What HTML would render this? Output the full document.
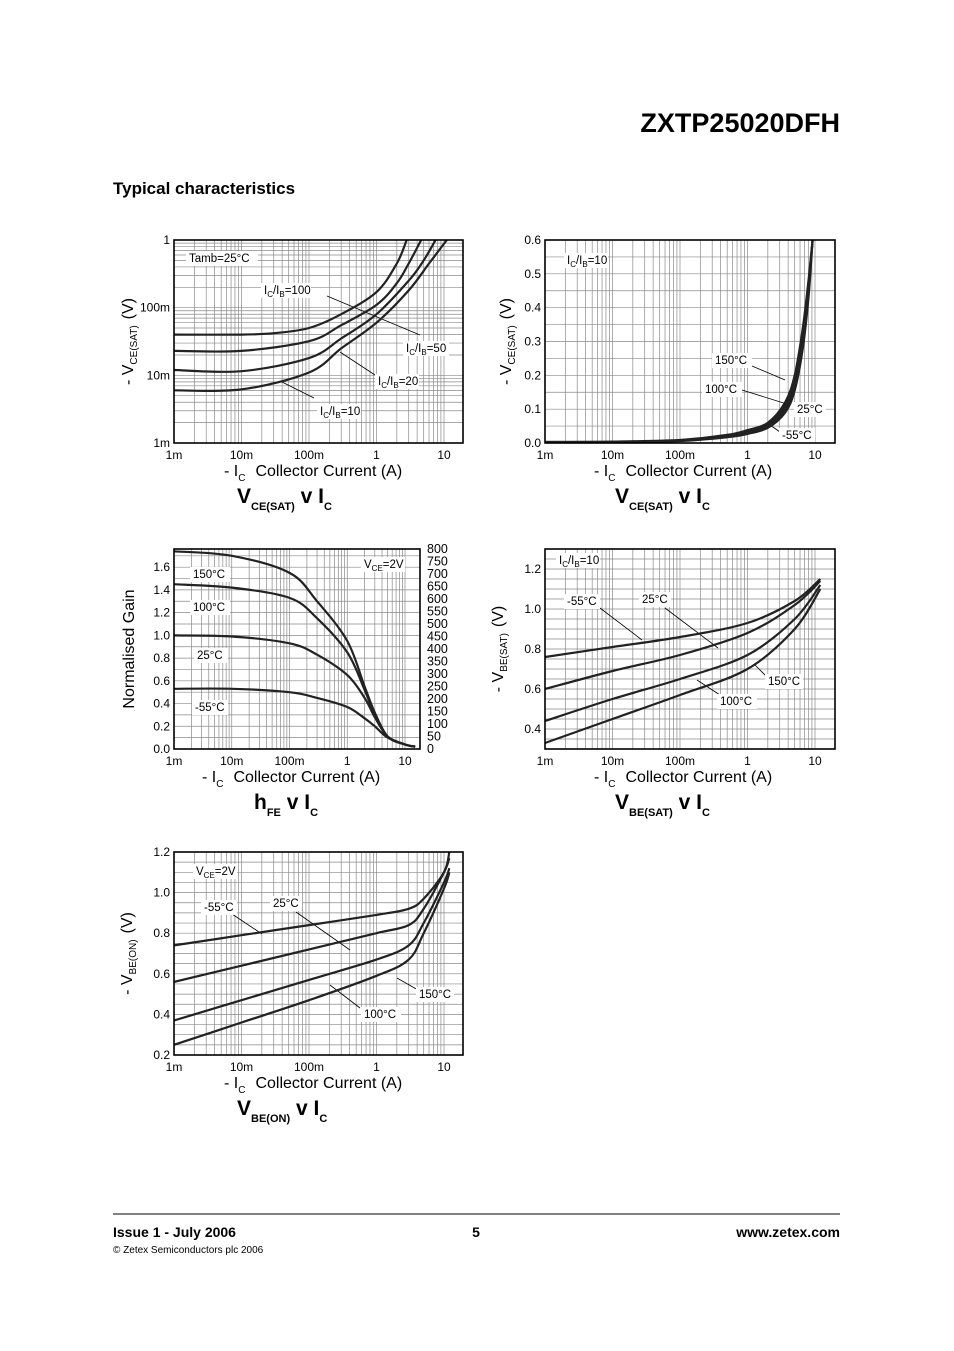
<!DOCTYPE html>
<html><head><meta charset="utf-8"><style>
html,body{margin:0;padding:0;background:#fff}
svg{display:block;font-family:"Liberation Sans",sans-serif}
</style></head><body>
<svg id="pg" width="954" height="1351" viewBox="0 0 954 1351" xmlns="http://www.w3.org/2000/svg">
<text x="840" y="132" text-anchor="end" font-size="27" font-weight="bold">ZXTP25020DFH</text>
<text x="113" y="194" font-size="17" font-weight="bold">Typical characteristics</text>
<line x1="113" y1="1214" x2="840" y2="1214" stroke="#000" stroke-width="1"/>
<text x="113" y="1237" font-size="14" font-weight="bold">Issue 1 - July 2006</text>
<text x="476" y="1237" font-size="14" font-weight="bold" text-anchor="middle">5</text>
<text x="840" y="1237" font-size="14" font-weight="bold" text-anchor="end">www.zetex.com</text>
<text x="113" y="1253" font-size="10">© Zetex Semiconductors plc 2006</text>
<g id="charts"></g>
</svg>
<script>
// ---- Chart 1: VCE(SAT) v IC (mV, log) ----
const c1_100_x=[0.001,0.01,0.03,0.1,0.3,1,2,2.8];
const c1_100_y=[40,40,42,50,80,170,450,1000];
const c1_50_x=[0.001,0.01,0.1,0.3,1,2,3,4.6];
const c1_50_y=[23,23,32,55,110,230,450,1000];
const c1_20_x=[0.001,0.01,0.1,0.3,1,3,5,7.5];
const c1_20_y=[12,11.5,18,35,80,250,500,1000];
const c1_10_x=[0.001,0.01,0.1,0.3,1,3,6,11];
const c1_10_y=[6,6.2,11,25,60,180,450,1000];
// ---- Chart 2: VCE(SAT) v IC temperatures ----
const c2_x=[0.001,0.01,0.1,0.5,1,2,3.6,5,6.6,8,9.2];
const c2_150=[0.003,0.004,0.009,0.024,0.038,0.06,0.12,0.2,0.34,0.48,0.6];
const c2_100=[0.003,0.0035,0.008,0.022,0.034,0.055,0.11,0.185,0.32,0.47,0.6];
const c2_25=[0.002,0.003,0.007,0.02,0.031,0.05,0.1,0.17,0.3,0.45,0.6];
const c2_m55=[0.002,0.0025,0.006,0.017,0.027,0.045,0.09,0.155,0.28,0.43,0.6];
// ---- Chart 3: hFE v IC (normalised) ----
const c3_x=[0.001,0.01,0.1,0.3,1,2,3,5,10,15];
const c3_150=[1.74,1.70,1.55,1.30,0.95,0.55,0.32,0.11,0.04,0.02];
const c3_100=[1.45,1.42,1.33,1.15,0.85,0.52,0.30,0.11,0.04,0.02];
const c3_25=[1.0,0.99,0.93,0.83,0.65,0.45,0.28,0.11,0.04,0.02];
const c3_m55=[0.53,0.53,0.50,0.45,0.37,0.27,0.20,0.10,0.04,0.02];
// ---- Chart 4: VBE(SAT) v IC ----
const c4_x=[0.001,0.01,0.1,1,5,12];
const c4_m55=[0.76,0.81,0.86,0.93,1.04,1.15];
const c4_25=[0.60,0.69,0.77,0.88,1.02,1.14];
const c4_100=[0.44,0.55,0.65,0.77,0.95,1.12];
const c4_150=[0.33,0.45,0.57,0.70,0.90,1.10];
// ---- Chart 5: VBE(ON) v IC ----
const c5_x=[0.001,0.01,0.1,1,3,5,10,12];
const c5_m55=[0.74,0.79,0.84,0.89,0.92,0.97,1.10,1.20];
const c5_25=[0.56,0.64,0.72,0.80,0.84,0.92,1.10,1.17];
const c5_100=[0.37,0.47,0.57,0.67,0.74,0.85,1.05,1.12];
const c5_150=[0.25,0.36,0.47,0.59,0.67,0.80,1.02,1.10];

const NS='http://www.w3.org/2000/svg';
const root=document.getElementById('charts');
function mk(tag,attrs,parent){const e=document.createElementNS(NS,tag);for(const k in attrs)e.setAttribute(k,attrs[k]);(parent||root).appendChild(e);return e;}
let clipId=0;
function smooth(pts){let d='M'+pts[0][0].toFixed(1)+','+pts[0][1].toFixed(1);
 for(let i=0;i<pts.length-1;i++){const p0=pts[Math.max(0,i-1)],p1=pts[i],p2=pts[i+1],p3=pts[Math.min(pts.length-1,i+2)];
  const c1=[p1[0]+(p2[0]-p0[0])/6,p1[1]+(p2[1]-p0[1])/6],c2=[p2[0]-(p3[0]-p1[0])/6,p2[1]-(p3[1]-p1[1])/6];
  d+='C'+c1[0].toFixed(1)+','+c1[1].toFixed(1)+' '+c2[0].toFixed(1)+','+c2[1].toFixed(1)+' '+p2[0].toFixed(1)+','+p2[1].toFixed(1);}
 return d;}
function chart(c){
 const g=mk('g',{});
 
 
 const X=v=>c.L+Math.log10(v/0.001)*c.dec;
 const Y=c.ylog?(v=>c.B-(Math.log10(v/c.ymin)/Math.log10(c.ymax/c.ymin))*(c.B-c.T)):(v=>c.B-(v-c.ymin)/(c.ymax-c.ymin)*(c.B-c.T));
 const grid=mk('g',{stroke:'#8a8a8a','stroke-width':'0.7'},g);
 
 
 for(let d=-3;d<=1;d++)for(let k=1;k<=9;k++){const x=X(k*Math.pow(10,d));if(x>c.L&&x<c.R)mk('line',{x1:x,y1:c.T,x2:x,y2:c.B},grid);}
 if(c.ylog){for(let d=Math.log10(c.ymin);d<Math.log10(c.ymax);d++)for(let k=1;k<=9;k++){const y=Y(k*Math.pow(10,d));if(y>c.T+0.5&&y<c.B-0.5)mk('line',{x1:c.L,y1:y,x2:c.R,y2:y},grid);}}
 else{for(let v=c.ymin;v<c.ymax+1e-9;v+=c.ystep){const y=Y(v);if(y>c.T+0.5&&y<c.B-0.5)mk('line',{x1:c.L,y1:y,x2:c.R,y2:y},grid);}}
 const cid='cl'+(clipId++);
 const cp=mk('clipPath',{id:cid},g);mk('rect',{x:c.L,y:c.T,width:c.R-c.L,height:c.B-c.T},cp);
 // labels with white bg
 c.labels.forEach(l=>{
  if(l.line){const ln=mk('line',{x1:l.line[0],y1:l.line[1],x2:l.line[2],y2:l.line[3],stroke:'#000','stroke-width':'0.8'},g);
   
   }
  const r=mk('rect',{x:l.x-3,y:l.y-11,width:l.w,height:15,fill:'#fff'},g);
  
  
  const t=mk('text',{x:l.x,y:l.y,'font-size':'11.5'},g);t.innerHTML=l.t;
  
  
 });
 c.series.forEach((s,i)=>{
  const pts=s.x.map((v,j)=>[X(v),Y(s.y[j])]);
  const p=mk('path',{d:smooth(pts),fill:'none',stroke:'#222','stroke-width':'2.2','clip-path':'url(#'+cid+')'},g);
  
  
 });
 const fr=mk('rect',{x:c.L,y:c.T,width:c.R-c.L,height:c.B-c.T,fill:'none',stroke:'#000','stroke-width':'1.6'},g);
 
 
 const xl=['1m','10m','100m','1','10'];
 xl.forEach((t,i)=>{const tx=mk('text',{x:X(Math.pow(10,i-3)),y:c.B+16,'font-size':'12','text-anchor':'middle'},g);tx.textContent=t;
  
  });
 c.yt.forEach(v=>{const ty=mk('text',{x:c.L-4,y:Y(v[0])+4,'font-size':'12','text-anchor':'end'},g);ty.textContent=v[1];
  
  });
 if(c.rt)c.rt.forEach(v=>{const ty=mk('text',{x:c.R+7,y:c.B-(v/800)*(c.B-c.T)+4,'font-size':'12.5'},g);ty.textContent=v;
  
  });
 const xt=mk('text',{x:c.xtx,y:c.B+33,'font-size':'16'},g);
 xt.innerHTML='- I<tspan font-size="10" dy="5">C</tspan><tspan dy="-5" dx="10">Collector Current (A)</tspan>';
 
 
 const yt=mk('text',{transform:'translate('+c.ytx+','+((c.T+c.B)/2)+') rotate(-90)','font-size':'16','text-anchor':'middle'},g);
 yt.innerHTML=c.ytitle;
 
 
 const ct=mk('text',{x:c.ttx,y:c.B+60,'font-size':'21','font-weight':'bold'},g);
 ct.innerHTML=c.title;
 
 
}
const sub=(a,b)=>a+'<tspan font-size="8" dy="3">'+b+'</tspan><tspan dy="-3">';
chart({name:'vcesat-vs-ic-chart',L:174,T:240,R:463,B:443,dec:67.5,ylog:true,ymin:1,ymax:1000,
 yt:[[1000,'1'],[100,'100m'],[10,'10m'],[1,'1m']],xtx:224,ytx:133,ttx:237,
 ytitle:'- V<tspan font-size="10" dy="4">CE(SAT)</tspan><tspan dy="-4" dx="6">(V)</tspan>',
 title:'V<tspan font-size="11" dy="7">CE(SAT)</tspan><tspan dy="-7"> v I</tspan><tspan font-size="11" dy="7">C</tspan>',
 series:[{n:'curve-ic-ib-100',x:c1_100_x,y:c1_100_y},{n:'curve-ic-ib-50',x:c1_50_x,y:c1_50_y},{n:'curve-ic-ib-20',x:c1_20_x,y:c1_20_y},{n:'curve-ic-ib-10',x:c1_10_x,y:c1_10_y}],
 labels:[{x:189,y:262,w:72,t:'Tamb=25°C'},
  {x:264,y:294,w:50,t:sub('I','C')+'/I</tspan><tspan font-size="8" dy="3">B</tspan><tspan dy="-3">=100</tspan>',line:[327,296,420,335]},
  {x:406,y:352,w:46,t:'I<tspan font-size="8" dy="3">C</tspan><tspan dy="-3">/I</tspan><tspan font-size="8" dy="3">B</tspan><tspan dy="-3">=50</tspan>'},
  {x:378,y:385,w:44,t:'I<tspan font-size="8" dy="3">C</tspan><tspan dy="-3">/I</tspan><tspan font-size="8" dy="3">B</tspan><tspan dy="-3">=20</tspan>',line:[340,352,375,375]},
  {x:320,y:415,w:44,t:'I<tspan font-size="8" dy="3">C</tspan><tspan dy="-3">/I</tspan><tspan font-size="8" dy="3">B</tspan><tspan dy="-3">=10</tspan>',line:[282,382,314,398]}]});
chart({name:'vcesat-temperature-chart',L:545,T:240,R:835,B:443,dec:67.5,ylog:false,ymin:0,ymax:0.6,ystep:0.05,
 yt:[[0.6,'0.6'],[0.5,'0.5'],[0.4,'0.4'],[0.3,'0.3'],[0.2,'0.2'],[0.1,'0.1'],[0,'0.0']],xtx:594,ytx:511,ttx:615,
 ytitle:'- V<tspan font-size="10" dy="4">CE(SAT)</tspan><tspan dy="-4" dx="6">(V)</tspan>',
 title:'V<tspan font-size="11" dy="7">CE(SAT)</tspan><tspan dy="-7"> v I</tspan><tspan font-size="11" dy="7">C</tspan>',
 series:[{n:'curve-150c',x:c2_x,y:c2_150},{n:'curve-100c',x:c2_x,y:c2_100},{n:'curve-25c',x:c2_x,y:c2_25},{n:'curve-minus55c',x:c2_x,y:c2_m55}],
 labels:[{x:567,y:264,w:44,t:'I<tspan font-size="8" dy="3">C</tspan><tspan dy="-3">/I</tspan><tspan font-size="8" dy="3">B</tspan><tspan dy="-3">=10</tspan>'},
  {x:715,y:364,w:40,t:'150°C',line:[752,366,785,380]},{x:705,y:393,w:40,t:'100°C',line:[742,390,790,405]},
  {x:797,y:413,w:32,t:'25°C'},{x:782,y:439,w:36,t:'-55°C',line:[770,425,780,432]}]});
chart({name:'hfe-vs-ic-chart',L:174,T:549,R:420,B:749,dec:57.75,ylog:false,ymin:0,ymax:1.76,ystep:0.1,
 yt:[[1.6,'1.6'],[1.4,'1.4'],[1.2,'1.2'],[1.0,'1.0'],[0.8,'0.8'],[0.6,'0.6'],[0.4,'0.4'],[0.2,'0.2'],[0,'0.0']],
 rt:[800,750,700,650,600,550,500,450,400,350,300,250,200,150,100,50,0],xtx:202,ytx:134,ttx:254,
 ytitle:'Normalised Gain',
 title:'h<tspan font-size="11" dy="7">FE</tspan><tspan dy="-7"> v I</tspan><tspan font-size="11" dy="7">C</tspan>',
 series:[{n:'curve-150c',x:c3_x,y:c3_150},{n:'curve-100c',x:c3_x,y:c3_100},{n:'curve-25c',x:c3_x,y:c3_25},{n:'curve-minus55c',x:c3_x,y:c3_m55}],
 labels:[{x:193,y:578,w:40,t:'150°C'},{x:193,y:611,w:40,t:'100°C'},{x:197,y:659,w:34,t:'25°C'},{x:195,y:711,w:36,t:'-55°C'},
  {x:364,y:568,w:44,t:'V<tspan font-size="8" dy="3">CE</tspan><tspan dy="-3">=2V</tspan>'}]});
chart({name:'vbesat-vs-ic-chart',L:545,T:549,R:835,B:749,dec:67.5,ylog:false,ymin:0.3,ymax:1.3,ystep:0.05,
 yt:[[1.2,'1.2'],[1.0,'1.0'],[0.8,'0.8'],[0.6,'0.6'],[0.4,'0.4']],xtx:594,ytx:503,ttx:615,
 ytitle:'- V<tspan font-size="10" dy="4">BE(SAT)</tspan><tspan dy="-4" dx="6">(V)</tspan>',
 title:'V<tspan font-size="11" dy="7">BE(SAT)</tspan><tspan dy="-7"> v I</tspan><tspan font-size="11" dy="7">C</tspan>',
 series:[{n:'curve-minus55c',x:c4_x,y:c4_m55},{n:'curve-25c',x:c4_x,y:c4_25},{n:'curve-100c',x:c4_x,y:c4_100},{n:'curve-150c',x:c4_x,y:c4_150}],
 labels:[{x:559,y:564,w:44,t:'I<tspan font-size="8" dy="3">C</tspan><tspan dy="-3">/I</tspan><tspan font-size="8" dy="3">B</tspan><tspan dy="-3">=10</tspan>'},
  {x:567,y:605,w:36,t:'-55°C',line:[600,608,642,640]},{x:642,y:603,w:32,t:'25°C',line:[665,608,718,648]},
  {x:720,y:705,w:40,t:'100°C',line:[697,680,720,695]},{x:768,y:685,w:38,t:'150°C',line:[755,665,770,680]}]});
chart({name:'vbeon-vs-ic-chart',L:174,T:852,R:463,B:1055,dec:67.5,ylog:false,ymin:0.2,ymax:1.2,ystep:0.05,
 yt:[[1.2,'1.2'],[1.0,'1.0'],[0.8,'0.8'],[0.6,'0.6'],[0.4,'0.4'],[0.2,'0.2']],xtx:224,ytx:132,ttx:237,
 ytitle:'- V<tspan font-size="10" dy="4">BE(ON)</tspan><tspan dy="-4" dx="6">(V)</tspan>',
 title:'V<tspan font-size="11" dy="7">BE(ON)</tspan><tspan dy="-7"> v I</tspan><tspan font-size="11" dy="7">C</tspan>',
 series:[{n:'curve-minus55c',x:c5_x,y:c5_m55},{n:'curve-25c',x:c5_x,y:c5_25},{n:'curve-100c',x:c5_x,y:c5_100},{n:'curve-150c',x:c5_x,y:c5_150}],
 labels:[{x:196,y:875,w:44,t:'V<tspan font-size="8" dy="3">CE</tspan><tspan dy="-3">=2V</tspan>'},
  {x:204,y:911,w:36,t:'-55°C',line:[232,914,262,934]},{x:273,y:907,w:32,t:'25°C',line:[296,912,350,950]},
  {x:364,y:1018,w:40,t:'100°C',line:[330,985,360,1008]},{x:419,y:998,w:38,t:'150°C',line:[397,978,418,990]}]});
</script>
</body></html>
